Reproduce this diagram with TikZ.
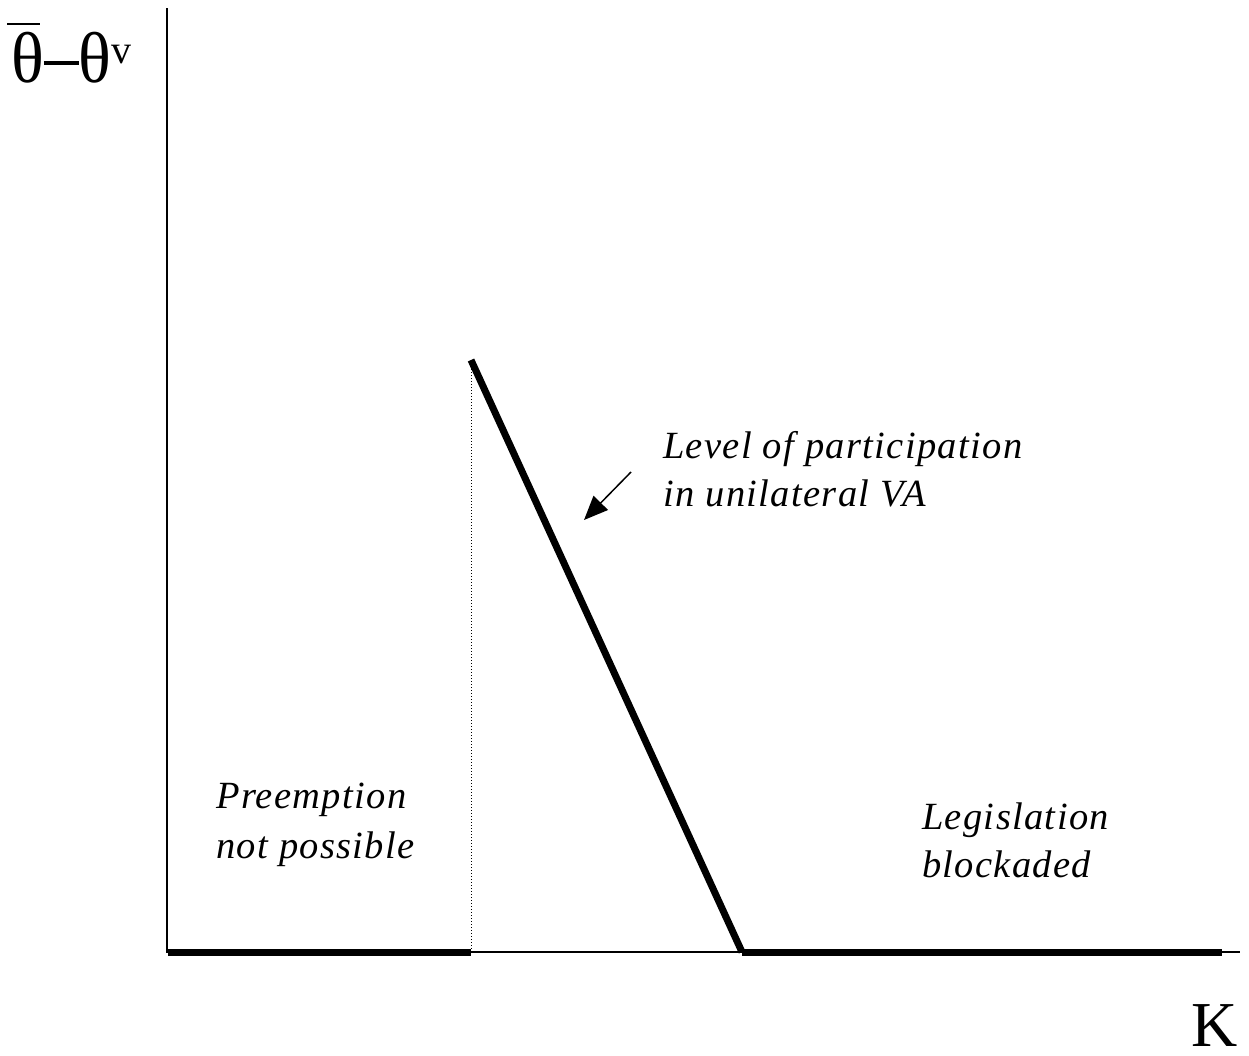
\documentclass[tikz,border=0pt]{standalone}
\usepackage{fontspec}
\setmainfont{Liberation Serif}
\usetikzlibrary{arrows.meta}
\begin{document}
\begin{tikzpicture}[x=1pt,y=-1pt,
  axisline/.style={line width=1.5pt},
  curve/.style={line width=7pt},
  lbl/.style={font=\fontsize{38.5}{50}\selectfont\itshape\addfontfeatures{LetterSpace=3.5}, align=left, anchor=north west, inner sep=0pt}]
\useasboundingbox (0,0) rectangle (1249,1055);
\coordinate (Ytop) at (167,8);
\coordinate (O) at (167,952);
\coordinate (Xend) at (1240,952);
\coordinate (S) at (168,952);
\coordinate (P) at (471,952);
\coordinate (Top) at (471,360);
\coordinate (Q) at (742,952);
\coordinate (R) at (1222,952);
\coordinate (A1) at (631,472);
\coordinate (A2) at (584,520);
\draw[axisline] (Ytop) -- (O) -- (Xend);
\draw[dotted, line width=1pt] (Top) -- (P);
\draw[curve] (S) -- (P);
\draw[curve] (Top) -- (Q);
\draw[curve] (Q) -- (R);
\draw[line width=1.5pt, -{Triangle[length=24pt,width=20pt]}] (A1) -- (A2);
\node[lbl] (lev) at (663,431) {Level of participation\\[-2pt]in unilateral VA};
\node[lbl] (pre) at (216,783) {Preemption\\not possible};
\node[lbl] (leg) at (922,803) {Legislation\\[-2pt]blockaded};
\node[font=\fontsize{72}{72}\selectfont, anchor=base west, inner sep=0pt] (ylab) at (7,82)
  {\rlap{\raisebox{57pt}{\rule{33pt}{2pt}}}\hspace{4pt}\scalebox{0.95}[1]{θ}\rule[17pt]{35pt}{4pt}\scalebox{0.95}[1]{θ}\raisebox{19pt}{\fontsize{40}{40}\selectfont v}};
\node[font=\fontsize{64}{64}\selectfont, anchor=base east, inner sep=0pt] (xlab) at (1238,1046) {K};
\end{tikzpicture}
\end{document}
